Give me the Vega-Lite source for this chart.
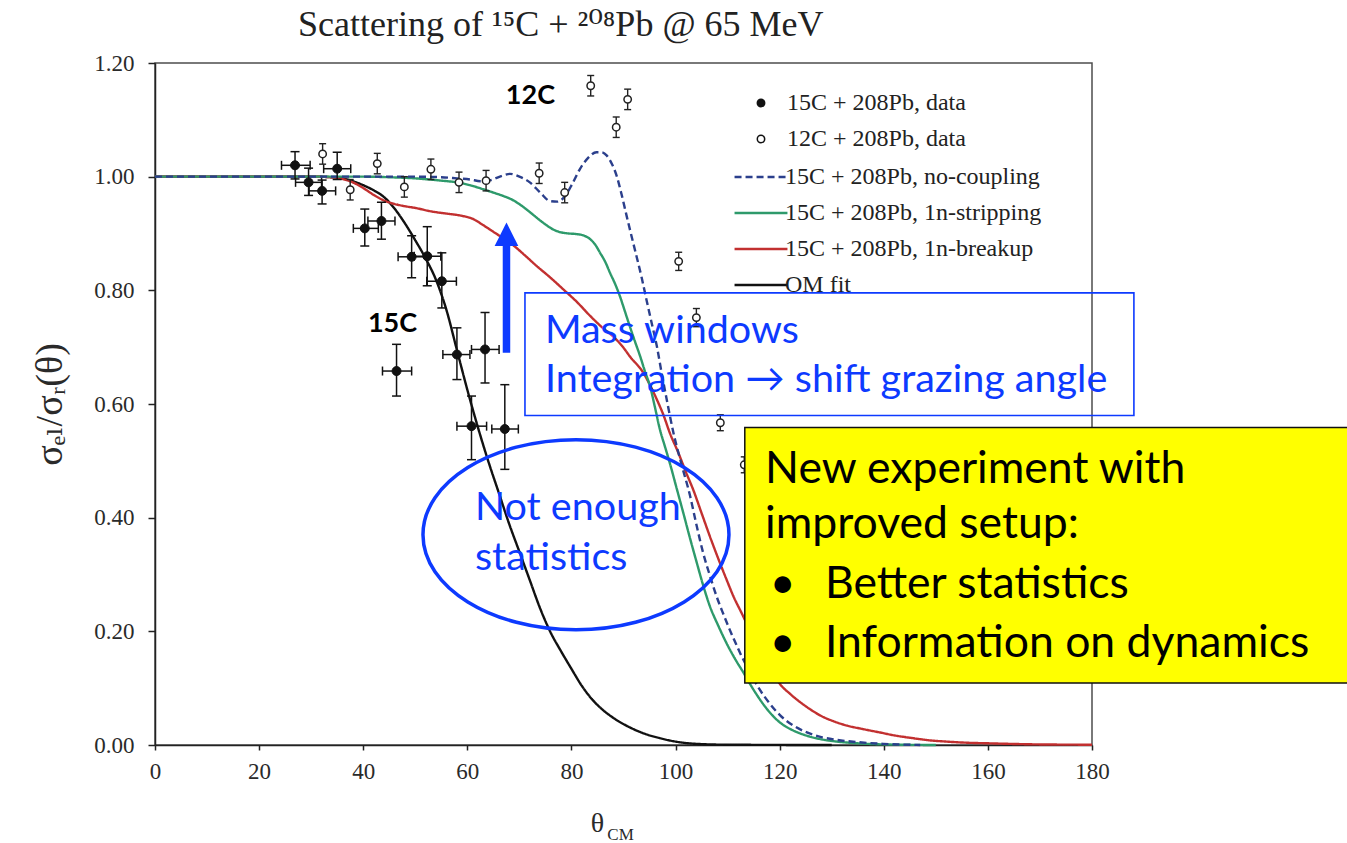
{
  "$schema": "https://vega.github.io/schema/vega-lite/v6.json",
  "width": 937,
  "height": 682,
  "autosize": {"type": "none"},
  "padding": {"left": 155, "top": 63, "right": 255, "bottom": 98},
  "background": "white",
  "title": {
    "text": "Scattering of ¹⁵C + ²⁰⁸Pb @ 65 MeV",
    "anchor": "start",
    "frame": "group",
    "dx": 143,
    "offset": 8,
    "font": "Liberation Serif, DejaVu Serif, serif",
    "fontSize": 36,
    "fontWeight": "normal",
    "color": "#222222"
  },
  "config": {
    "view": {"stroke": "#4d4d4d", "strokeWidth": 1.5},
    "axis": {
      "grid": false,
      "labelFont": "Liberation Serif",
      "labelFontSize": 23,
      "labelColor": "#2a2a2a",
      "labelFlush": false,
      "labelOverlap": false,
      "titleFont": "Liberation Serif, DejaVu Serif, serif",
      "titleFontWeight": "normal",
      "titleColor": "#2a2a2a",
      "domainColor": "#222222",
      "domainWidth": 1.5,
      "tickColor": "#222222",
      "tickWidth": 1.5
    },
    "axisX": {"titleFontSize": 28, "titlePadding": 26, "titleX": 442, "tickSize": 5, "labelPadding": 10},
    "axisY": {"titleFontSize": 38, "titlePadding": 24, "tickSize": 7, "labelPadding": 14},
    "legend": {
      "labelFont": "Liberation Serif",
      "labelFontSize": 24,
      "labelColor": "#222222",
      "labelLimit": 400,
      "padding": 0,
      "orient": "none"
    }
  },
  "datasets": {
    "curves": [
      {"theta": 0, "ratio": 1.0, "series": "OM fit"},
      {"theta": 30, "ratio": 1.0, "series": "OM fit"},
      {"theta": 34, "ratio": 0.999, "series": "OM fit"},
      {"theta": 36, "ratio": 0.997, "series": "OM fit"},
      {"theta": 38, "ratio": 0.992, "series": "OM fit"},
      {"theta": 40, "ratio": 0.985, "series": "OM fit"},
      {"theta": 42, "ratio": 0.976, "series": "OM fit"},
      {"theta": 44, "ratio": 0.964, "series": "OM fit"},
      {"theta": 46, "ratio": 0.944, "series": "OM fit"},
      {"theta": 48, "ratio": 0.918, "series": "OM fit"},
      {"theta": 50, "ratio": 0.888, "series": "OM fit"},
      {"theta": 52, "ratio": 0.856, "series": "OM fit"},
      {"theta": 54, "ratio": 0.818, "series": "OM fit"},
      {"theta": 56, "ratio": 0.765, "series": "OM fit"},
      {"theta": 58, "ratio": 0.695, "series": "OM fit"},
      {"theta": 60, "ratio": 0.625, "series": "OM fit"},
      {"theta": 62, "ratio": 0.56, "series": "OM fit"},
      {"theta": 64, "ratio": 0.5, "series": "OM fit"},
      {"theta": 66, "ratio": 0.445, "series": "OM fit"},
      {"theta": 68, "ratio": 0.39, "series": "OM fit"},
      {"theta": 70, "ratio": 0.34, "series": "OM fit"},
      {"theta": 72, "ratio": 0.29, "series": "OM fit"},
      {"theta": 74, "ratio": 0.24, "series": "OM fit"},
      {"theta": 76, "ratio": 0.198, "series": "OM fit"},
      {"theta": 78, "ratio": 0.165, "series": "OM fit"},
      {"theta": 80, "ratio": 0.134, "series": "OM fit"},
      {"theta": 82, "ratio": 0.104, "series": "OM fit"},
      {"theta": 84, "ratio": 0.08, "series": "OM fit"},
      {"theta": 86, "ratio": 0.062, "series": "OM fit"},
      {"theta": 88, "ratio": 0.048, "series": "OM fit"},
      {"theta": 91, "ratio": 0.032, "series": "OM fit"},
      {"theta": 94, "ratio": 0.02, "series": "OM fit"},
      {"theta": 97, "ratio": 0.012, "series": "OM fit"},
      {"theta": 100, "ratio": 0.006, "series": "OM fit"},
      {"theta": 104, "ratio": 0.002, "series": "OM fit"},
      {"theta": 110, "ratio": 0.0005, "series": "OM fit"},
      {"theta": 130, "ratio": 0, "series": "OM fit"},

      {"theta": 0, "ratio": 1.0, "series": "15C + 208Pb, 1n-breakup"},
      {"theta": 30, "ratio": 1.0, "series": "15C + 208Pb, 1n-breakup"},
      {"theta": 34, "ratio": 0.999, "series": "15C + 208Pb, 1n-breakup"},
      {"theta": 36, "ratio": 0.996, "series": "15C + 208Pb, 1n-breakup"},
      {"theta": 38, "ratio": 0.99, "series": "15C + 208Pb, 1n-breakup"},
      {"theta": 40, "ratio": 0.98, "series": "15C + 208Pb, 1n-breakup"},
      {"theta": 42, "ratio": 0.968, "series": "15C + 208Pb, 1n-breakup"},
      {"theta": 44, "ratio": 0.958, "series": "15C + 208Pb, 1n-breakup"},
      {"theta": 46, "ratio": 0.952, "series": "15C + 208Pb, 1n-breakup"},
      {"theta": 48, "ratio": 0.948, "series": "15C + 208Pb, 1n-breakup"},
      {"theta": 50, "ratio": 0.945, "series": "15C + 208Pb, 1n-breakup"},
      {"theta": 53, "ratio": 0.939, "series": "15C + 208Pb, 1n-breakup"},
      {"theta": 56, "ratio": 0.935, "series": "15C + 208Pb, 1n-breakup"},
      {"theta": 59, "ratio": 0.931, "series": "15C + 208Pb, 1n-breakup"},
      {"theta": 61, "ratio": 0.926, "series": "15C + 208Pb, 1n-breakup"},
      {"theta": 63, "ratio": 0.915, "series": "15C + 208Pb, 1n-breakup"},
      {"theta": 65, "ratio": 0.903, "series": "15C + 208Pb, 1n-breakup"},
      {"theta": 67, "ratio": 0.891, "series": "15C + 208Pb, 1n-breakup"},
      {"theta": 69, "ratio": 0.878, "series": "15C + 208Pb, 1n-breakup"},
      {"theta": 71, "ratio": 0.862, "series": "15C + 208Pb, 1n-breakup"},
      {"theta": 73.3, "ratio": 0.843, "series": "15C + 208Pb, 1n-breakup"},
      {"theta": 76, "ratio": 0.822, "series": "15C + 208Pb, 1n-breakup"},
      {"theta": 78.4, "ratio": 0.802, "series": "15C + 208Pb, 1n-breakup"},
      {"theta": 81, "ratio": 0.78, "series": "15C + 208Pb, 1n-breakup"},
      {"theta": 83.6, "ratio": 0.755, "series": "15C + 208Pb, 1n-breakup"},
      {"theta": 86, "ratio": 0.734, "series": "15C + 208Pb, 1n-breakup"},
      {"theta": 88, "ratio": 0.719, "series": "15C + 208Pb, 1n-breakup"},
      {"theta": 90, "ratio": 0.699, "series": "15C + 208Pb, 1n-breakup"},
      {"theta": 91.2, "ratio": 0.684, "series": "15C + 208Pb, 1n-breakup"},
      {"theta": 93.8, "ratio": 0.655, "series": "15C + 208Pb, 1n-breakup"},
      {"theta": 95, "ratio": 0.635, "series": "15C + 208Pb, 1n-breakup"},
      {"theta": 96.4, "ratio": 0.608, "series": "15C + 208Pb, 1n-breakup"},
      {"theta": 97.7, "ratio": 0.58, "series": "15C + 208Pb, 1n-breakup"},
      {"theta": 98.9, "ratio": 0.549, "series": "15C + 208Pb, 1n-breakup"},
      {"theta": 100.5, "ratio": 0.515, "series": "15C + 208Pb, 1n-breakup"},
      {"theta": 102, "ratio": 0.48, "series": "15C + 208Pb, 1n-breakup"},
      {"theta": 103.4, "ratio": 0.449, "series": "15C + 208Pb, 1n-breakup"},
      {"theta": 105, "ratio": 0.408, "series": "15C + 208Pb, 1n-breakup"},
      {"theta": 106.6, "ratio": 0.367, "series": "15C + 208Pb, 1n-breakup"},
      {"theta": 108.2, "ratio": 0.328, "series": "15C + 208Pb, 1n-breakup"},
      {"theta": 109.8, "ratio": 0.291, "series": "15C + 208Pb, 1n-breakup"},
      {"theta": 111.2, "ratio": 0.26, "series": "15C + 208Pb, 1n-breakup"},
      {"theta": 112.7, "ratio": 0.232, "series": "15C + 208Pb, 1n-breakup"},
      {"theta": 114.5, "ratio": 0.198, "series": "15C + 208Pb, 1n-breakup"},
      {"theta": 116, "ratio": 0.172, "series": "15C + 208Pb, 1n-breakup"},
      {"theta": 118, "ratio": 0.14, "series": "15C + 208Pb, 1n-breakup"},
      {"theta": 120, "ratio": 0.108, "series": "15C + 208Pb, 1n-breakup"},
      {"theta": 122, "ratio": 0.09, "series": "15C + 208Pb, 1n-breakup"},
      {"theta": 124, "ratio": 0.075, "series": "15C + 208Pb, 1n-breakup"},
      {"theta": 126, "ratio": 0.062, "series": "15C + 208Pb, 1n-breakup"},
      {"theta": 128, "ratio": 0.051, "series": "15C + 208Pb, 1n-breakup"},
      {"theta": 130, "ratio": 0.043, "series": "15C + 208Pb, 1n-breakup"},
      {"theta": 133, "ratio": 0.034, "series": "15C + 208Pb, 1n-breakup"},
      {"theta": 136, "ratio": 0.028, "series": "15C + 208Pb, 1n-breakup"},
      {"theta": 139.3, "ratio": 0.022, "series": "15C + 208Pb, 1n-breakup"},
      {"theta": 142, "ratio": 0.017, "series": "15C + 208Pb, 1n-breakup"},
      {"theta": 145.6, "ratio": 0.012, "series": "15C + 208Pb, 1n-breakup"},
      {"theta": 149, "ratio": 0.008, "series": "15C + 208Pb, 1n-breakup"},
      {"theta": 152, "ratio": 0.006, "series": "15C + 208Pb, 1n-breakup"},
      {"theta": 156, "ratio": 0.004, "series": "15C + 208Pb, 1n-breakup"},
      {"theta": 160, "ratio": 0.003, "series": "15C + 208Pb, 1n-breakup"},
      {"theta": 170, "ratio": 0.001, "series": "15C + 208Pb, 1n-breakup"},
      {"theta": 180, "ratio": 0.0005, "series": "15C + 208Pb, 1n-breakup"},

      {"theta": 0, "ratio": 1.0, "series": "15C + 208Pb, 1n-stripping"},
      {"theta": 40, "ratio": 1.0, "series": "15C + 208Pb, 1n-stripping"},
      {"theta": 45, "ratio": 0.999, "series": "15C + 208Pb, 1n-stripping"},
      {"theta": 50, "ratio": 0.997, "series": "15C + 208Pb, 1n-stripping"},
      {"theta": 55, "ratio": 0.993, "series": "15C + 208Pb, 1n-stripping"},
      {"theta": 58, "ratio": 0.99, "series": "15C + 208Pb, 1n-stripping"},
      {"theta": 60.5, "ratio": 0.985, "series": "15C + 208Pb, 1n-stripping"},
      {"theta": 63, "ratio": 0.978, "series": "15C + 208Pb, 1n-stripping"},
      {"theta": 65, "ratio": 0.972, "series": "15C + 208Pb, 1n-stripping"},
      {"theta": 66.9, "ratio": 0.966, "series": "15C + 208Pb, 1n-stripping"},
      {"theta": 68.5, "ratio": 0.96, "series": "15C + 208Pb, 1n-stripping"},
      {"theta": 70.1, "ratio": 0.951, "series": "15C + 208Pb, 1n-stripping"},
      {"theta": 71.7, "ratio": 0.94, "series": "15C + 208Pb, 1n-stripping"},
      {"theta": 73.3, "ratio": 0.928, "series": "15C + 208Pb, 1n-stripping"},
      {"theta": 75, "ratio": 0.916, "series": "15C + 208Pb, 1n-stripping"},
      {"theta": 76.5, "ratio": 0.907, "series": "15C + 208Pb, 1n-stripping"},
      {"theta": 78, "ratio": 0.902, "series": "15C + 208Pb, 1n-stripping"},
      {"theta": 79.5, "ratio": 0.9, "series": "15C + 208Pb, 1n-stripping"},
      {"theta": 81, "ratio": 0.899, "series": "15C + 208Pb, 1n-stripping"},
      {"theta": 82.5, "ratio": 0.896, "series": "15C + 208Pb, 1n-stripping"},
      {"theta": 83.6, "ratio": 0.89, "series": "15C + 208Pb, 1n-stripping"},
      {"theta": 84.6, "ratio": 0.88, "series": "15C + 208Pb, 1n-stripping"},
      {"theta": 85.5, "ratio": 0.866, "series": "15C + 208Pb, 1n-stripping"},
      {"theta": 86.5, "ratio": 0.85, "series": "15C + 208Pb, 1n-stripping"},
      {"theta": 87.4, "ratio": 0.831, "series": "15C + 208Pb, 1n-stripping"},
      {"theta": 88.4, "ratio": 0.811, "series": "15C + 208Pb, 1n-stripping"},
      {"theta": 89.3, "ratio": 0.79, "series": "15C + 208Pb, 1n-stripping"},
      {"theta": 90.2, "ratio": 0.765, "series": "15C + 208Pb, 1n-stripping"},
      {"theta": 91.2, "ratio": 0.737, "series": "15C + 208Pb, 1n-stripping"},
      {"theta": 92.2, "ratio": 0.71, "series": "15C + 208Pb, 1n-stripping"},
      {"theta": 93.2, "ratio": 0.684, "series": "15C + 208Pb, 1n-stripping"},
      {"theta": 94.1, "ratio": 0.658, "series": "15C + 208Pb, 1n-stripping"},
      {"theta": 95.1, "ratio": 0.631, "series": "15C + 208Pb, 1n-stripping"},
      {"theta": 96, "ratio": 0.596, "series": "15C + 208Pb, 1n-stripping"},
      {"theta": 97, "ratio": 0.555, "series": "15C + 208Pb, 1n-stripping"},
      {"theta": 98, "ratio": 0.524, "series": "15C + 208Pb, 1n-stripping"},
      {"theta": 98.9, "ratio": 0.496, "series": "15C + 208Pb, 1n-stripping"},
      {"theta": 100.2, "ratio": 0.452, "series": "15C + 208Pb, 1n-stripping"},
      {"theta": 101.5, "ratio": 0.408, "series": "15C + 208Pb, 1n-stripping"},
      {"theta": 102.8, "ratio": 0.363, "series": "15C + 208Pb, 1n-stripping"},
      {"theta": 104.1, "ratio": 0.32, "series": "15C + 208Pb, 1n-stripping"},
      {"theta": 105.3, "ratio": 0.281, "series": "15C + 208Pb, 1n-stripping"},
      {"theta": 106.6, "ratio": 0.244, "series": "15C + 208Pb, 1n-stripping"},
      {"theta": 108.2, "ratio": 0.21, "series": "15C + 208Pb, 1n-stripping"},
      {"theta": 109.8, "ratio": 0.179, "series": "15C + 208Pb, 1n-stripping"},
      {"theta": 111.4, "ratio": 0.152, "series": "15C + 208Pb, 1n-stripping"},
      {"theta": 113, "ratio": 0.128, "series": "15C + 208Pb, 1n-stripping"},
      {"theta": 115, "ratio": 0.097, "series": "15C + 208Pb, 1n-stripping"},
      {"theta": 117.5, "ratio": 0.064, "series": "15C + 208Pb, 1n-stripping"},
      {"theta": 120, "ratio": 0.04, "series": "15C + 208Pb, 1n-stripping"},
      {"theta": 122.5, "ratio": 0.026, "series": "15C + 208Pb, 1n-stripping"},
      {"theta": 125, "ratio": 0.017, "series": "15C + 208Pb, 1n-stripping"},
      {"theta": 128, "ratio": 0.01, "series": "15C + 208Pb, 1n-stripping"},
      {"theta": 131, "ratio": 0.006, "series": "15C + 208Pb, 1n-stripping"},
      {"theta": 135, "ratio": 0.003, "series": "15C + 208Pb, 1n-stripping"},
      {"theta": 140, "ratio": 0.001, "series": "15C + 208Pb, 1n-stripping"},
      {"theta": 150, "ratio": 0, "series": "15C + 208Pb, 1n-stripping"},

      {"theta": 0, "ratio": 1.0, "series": "15C + 208Pb, no-coupling"},
      {"theta": 45, "ratio": 1.0, "series": "15C + 208Pb, no-coupling"},
      {"theta": 50, "ratio": 1.0, "series": "15C + 208Pb, no-coupling"},
      {"theta": 55, "ratio": 0.999, "series": "15C + 208Pb, no-coupling"},
      {"theta": 58, "ratio": 0.997, "series": "15C + 208Pb, no-coupling"},
      {"theta": 60.6, "ratio": 0.995, "series": "15C + 208Pb, no-coupling"},
      {"theta": 62.5, "ratio": 0.992, "series": "15C + 208Pb, no-coupling"},
      {"theta": 64.5, "ratio": 0.994, "series": "15C + 208Pb, no-coupling"},
      {"theta": 66.5, "ratio": 1.001, "series": "15C + 208Pb, no-coupling"},
      {"theta": 68.2, "ratio": 1.005, "series": "15C + 208Pb, no-coupling"},
      {"theta": 70, "ratio": 1.0, "series": "15C + 208Pb, no-coupling"},
      {"theta": 72, "ratio": 0.99, "series": "15C + 208Pb, no-coupling"},
      {"theta": 74, "ratio": 0.972, "series": "15C + 208Pb, no-coupling"},
      {"theta": 75.9, "ratio": 0.957, "series": "15C + 208Pb, no-coupling"},
      {"theta": 77.3, "ratio": 0.956, "series": "15C + 208Pb, no-coupling"},
      {"theta": 78.8, "ratio": 0.966, "series": "15C + 208Pb, no-coupling"},
      {"theta": 80.2, "ratio": 0.988, "series": "15C + 208Pb, no-coupling"},
      {"theta": 81.6, "ratio": 1.013, "series": "15C + 208Pb, no-coupling"},
      {"theta": 83.2, "ratio": 1.033, "series": "15C + 208Pb, no-coupling"},
      {"theta": 84.8, "ratio": 1.043, "series": "15C + 208Pb, no-coupling"},
      {"theta": 85.8, "ratio": 1.043, "series": "15C + 208Pb, no-coupling"},
      {"theta": 86.8, "ratio": 1.037, "series": "15C + 208Pb, no-coupling"},
      {"theta": 87.8, "ratio": 1.022, "series": "15C + 208Pb, no-coupling"},
      {"theta": 88.7, "ratio": 1.001, "series": "15C + 208Pb, no-coupling"},
      {"theta": 89.6, "ratio": 0.97, "series": "15C + 208Pb, no-coupling"},
      {"theta": 90.6, "ratio": 0.931, "series": "15C + 208Pb, no-coupling"},
      {"theta": 91.5, "ratio": 0.897, "series": "15C + 208Pb, no-coupling"},
      {"theta": 92.5, "ratio": 0.86, "series": "15C + 208Pb, no-coupling"},
      {"theta": 93.5, "ratio": 0.822, "series": "15C + 208Pb, no-coupling"},
      {"theta": 94.4, "ratio": 0.784, "series": "15C + 208Pb, no-coupling"},
      {"theta": 95.4, "ratio": 0.743, "series": "15C + 208Pb, no-coupling"},
      {"theta": 96.4, "ratio": 0.702, "series": "15C + 208Pb, no-coupling"},
      {"theta": 97.3, "ratio": 0.656, "series": "15C + 208Pb, no-coupling"},
      {"theta": 98.3, "ratio": 0.608, "series": "15C + 208Pb, no-coupling"},
      {"theta": 99.6, "ratio": 0.549, "series": "15C + 208Pb, no-coupling"},
      {"theta": 101.2, "ratio": 0.492, "series": "15C + 208Pb, no-coupling"},
      {"theta": 102.8, "ratio": 0.438, "series": "15C + 208Pb, no-coupling"},
      {"theta": 104, "ratio": 0.388, "series": "15C + 208Pb, no-coupling"},
      {"theta": 105.3, "ratio": 0.338, "series": "15C + 208Pb, no-coupling"},
      {"theta": 106.6, "ratio": 0.298, "series": "15C + 208Pb, no-coupling"},
      {"theta": 107.9, "ratio": 0.261, "series": "15C + 208Pb, no-coupling"},
      {"theta": 109.2, "ratio": 0.23, "series": "15C + 208Pb, no-coupling"},
      {"theta": 110.4, "ratio": 0.203, "series": "15C + 208Pb, no-coupling"},
      {"theta": 111.6, "ratio": 0.178, "series": "15C + 208Pb, no-coupling"},
      {"theta": 112.7, "ratio": 0.156, "series": "15C + 208Pb, no-coupling"},
      {"theta": 114.3, "ratio": 0.128, "series": "15C + 208Pb, no-coupling"},
      {"theta": 116, "ratio": 0.1, "series": "15C + 208Pb, no-coupling"},
      {"theta": 118, "ratio": 0.074, "series": "15C + 208Pb, no-coupling"},
      {"theta": 120, "ratio": 0.053, "series": "15C + 208Pb, no-coupling"},
      {"theta": 122.5, "ratio": 0.035, "series": "15C + 208Pb, no-coupling"},
      {"theta": 125, "ratio": 0.023, "series": "15C + 208Pb, no-coupling"},
      {"theta": 128, "ratio": 0.014, "series": "15C + 208Pb, no-coupling"},
      {"theta": 131, "ratio": 0.009, "series": "15C + 208Pb, no-coupling"},
      {"theta": 135, "ratio": 0.005, "series": "15C + 208Pb, no-coupling"},
      {"theta": 140, "ratio": 0.002, "series": "15C + 208Pb, no-coupling"},
      {"theta": 147, "ratio": 0, "series": "15C + 208Pb, no-coupling"}
    ],
    "c15": [
      {"theta": 26.9, "ratio": 1.02, "tlo": 24.3, "thi": 29.8, "rlo": 0.996, "rhi": 1.044, "series": "15C + 208Pb, data"},
      {"theta": 29.5, "ratio": 0.99, "tlo": 27.0, "thi": 32.0, "rlo": 0.967, "rhi": 1.015, "series": "15C + 208Pb, data"},
      {"theta": 32.1, "ratio": 0.975, "tlo": 29.6, "thi": 34.7, "rlo": 0.952, "rhi": 0.994, "series": "15C + 208Pb, data"},
      {"theta": 35.0, "ratio": 1.014, "tlo": 32.4, "thi": 37.6, "rlo": 0.995, "rhi": 1.043, "series": "15C + 208Pb, data"},
      {"theta": 40.3, "ratio": 0.909, "tlo": 38.1, "thi": 42.9, "rlo": 0.878, "rhi": 0.943, "series": "15C + 208Pb, data"},
      {"theta": 43.5, "ratio": 0.922, "tlo": 40.9, "thi": 46.1, "rlo": 0.89, "rhi": 0.955, "series": "15C + 208Pb, data"},
      {"theta": 49.3, "ratio": 0.859, "tlo": 46.7, "thi": 52.2, "rlo": 0.822, "rhi": 0.896, "series": "15C + 208Pb, data"},
      {"theta": 52.3, "ratio": 0.86, "tlo": 49.8, "thi": 54.9, "rlo": 0.808, "rhi": 0.912, "series": "15C + 208Pb, data"},
      {"theta": 55.1, "ratio": 0.816, "tlo": 52.2, "thi": 57.9, "rlo": 0.769, "rhi": 0.866, "series": "15C + 208Pb, data"},
      {"theta": 46.4, "ratio": 0.658, "tlo": 43.7, "thi": 49.3, "rlo": 0.614, "rhi": 0.705, "series": "15C + 208Pb, data"},
      {"theta": 58.0, "ratio": 0.687, "tlo": 55.3, "thi": 60.5, "rlo": 0.643, "rhi": 0.734, "series": "15C + 208Pb, data"},
      {"theta": 63.4, "ratio": 0.696, "tlo": 60.8, "thi": 66.1, "rlo": 0.637, "rhi": 0.761, "series": "15C + 208Pb, data"},
      {"theta": 60.8, "ratio": 0.561, "tlo": 58.0, "thi": 63.7, "rlo": 0.502, "rhi": 0.614, "series": "15C + 208Pb, data"},
      {"theta": 67.2, "ratio": 0.556, "tlo": 64.7, "thi": 69.8, "rlo": 0.485, "rhi": 0.634, "series": "15C + 208Pb, data"}
    ],
    "c12": [
      {"theta": 32.2, "ratio": 1.04, "rlo": 1.022, "rhi": 1.058, "series": "12C + 208Pb, data"},
      {"theta": 37.5, "ratio": 0.977, "rlo": 0.959, "rhi": 0.995, "series": "12C + 208Pb, data"},
      {"theta": 42.7, "ratio": 1.023, "rlo": 1.005, "rhi": 1.041, "series": "12C + 208Pb, data"},
      {"theta": 47.9, "ratio": 0.982, "rlo": 0.964, "rhi": 1.0, "series": "12C + 208Pb, data"},
      {"theta": 53.0, "ratio": 1.013, "rlo": 0.995, "rhi": 1.031, "series": "12C + 208Pb, data"},
      {"theta": 58.4, "ratio": 0.99, "rlo": 0.972, "rhi": 1.008, "series": "12C + 208Pb, data"},
      {"theta": 63.6, "ratio": 0.993, "rlo": 0.975, "rhi": 1.011, "series": "12C + 208Pb, data"},
      {"theta": 73.8, "ratio": 1.006, "rlo": 0.988, "rhi": 1.024, "series": "12C + 208Pb, data"},
      {"theta": 78.7, "ratio": 0.972, "rlo": 0.954, "rhi": 0.99, "series": "12C + 208Pb, data"},
      {"theta": 83.7, "ratio": 1.16, "rlo": 1.142, "rhi": 1.178, "series": "12C + 208Pb, data"},
      {"theta": 88.6, "ratio": 1.087, "rlo": 1.069, "rhi": 1.105, "series": "12C + 208Pb, data"},
      {"theta": 90.8, "ratio": 1.136, "rlo": 1.118, "rhi": 1.154, "series": "12C + 208Pb, data"},
      {"theta": 100.6, "ratio": 0.851, "rlo": 0.835, "rhi": 0.867, "series": "12C + 208Pb, data"},
      {"theta": 104.0, "ratio": 0.752, "rlo": 0.736, "rhi": 0.768, "series": "12C + 208Pb, data"},
      {"theta": 108.6, "ratio": 0.567, "rlo": 0.553, "rhi": 0.581, "series": "12C + 208Pb, data"},
      {"theta": 113.2, "ratio": 0.493, "rlo": 0.479, "rhi": 0.507, "series": "12C + 208Pb, data"}
    ],
    "frame": [{"x0": 71.07, "x1": 188.05, "y0": 0.5797, "y1": 0.7956}],
    "arrow": [{"x": 67.52, "y0": 0.69, "y1": 0.88, "tip": 0.8987}],
    "ring": [{"x": 80.87, "y": 0.37}],
    "blue_notes": [
      {"x": 74.9, "y": 0.7075, "label": "Mass windows"},
      {"x": 74.9, "y": 0.621, "label": "Integration → shift grazing angle"},
      {"x": 61.47, "y": 0.3965, "label": "Not enough"},
      {"x": 61.47, "y": 0.3084, "label": "statistics"}
    ],
    "tags": [
      {"x": 67.4, "y": 1.128, "label": "12C"},
      {"x": 40.9, "y": 0.726, "label": "15C"}
    ],
    "panel": [{"x0": 113.3, "x1": 240, "y0": 0.1093, "y1": 0.5586}],
    "panel_notes": [
      {"x": 117.2, "y": 0.461, "label": "New experiment with"},
      {"x": 117.2, "y": 0.364, "label": "improved setup:"},
      {"x": 118.1, "y": 0.2585, "label": "•"},
      {"x": 128.7, "y": 0.2585, "label": "Better statistics"},
      {"x": 118.1, "y": 0.1556, "label": "•"},
      {"x": 128.7, "y": 0.1556, "label": "Information on dynamics"}
    ],
    "sub": [{"x": 86.9, "y": -0.168, "label": "CM"}]
  },
  "layer": [
    {
      "data": {"name": "curves"},
      "mark": {"type": "line", "strokeWidth": 2.4, "interpolate": "monotone"},
      "encoding": {
        "x": {
          "field": "theta", "type": "quantitative",
          "scale": {"domain": [0, 180], "nice": false},
          "axis": {"values": [0, 20, 40, 60, 80, 100, 120, 140, 160, 180], "format": "d"},
          "title": "θ"
        },
        "y": {
          "field": "ratio", "type": "quantitative",
          "scale": {"domain": [0, 1.2], "nice": false},
          "axis": {"values": [0, 0.2, 0.4, 0.6, 0.8, 1.0, 1.2], "format": ".2f"},
          "title": "σₑₗ/σᵣ(θ)"
        },
        "stroke": {
          "field": "series", "type": "nominal",
          "scale": {
            "domain": ["15C + 208Pb, no-coupling", "15C + 208Pb, 1n-stripping", "15C + 208Pb, 1n-breakup", "OM fit"],
            "range": ["#2b3f8c", "#2e9a6b", "#c23030", "#111111"]
          },
          "legend": {
            "title": null, "legendX": 578, "legendY": 102,
            "symbolType": "stroke", "symbolSize": 2800, "symbolStrokeWidth": 2.4,
            "clipHeight": 24, "rowPadding": 12, "labelOffset": -4
          }
        },
        "strokeDash": {
          "field": "series", "type": "nominal",
          "scale": {
            "domain": ["15C + 208Pb, no-coupling", "15C + 208Pb, 1n-stripping", "15C + 208Pb, 1n-breakup", "OM fit"],
            "range": [[7, 4], [1, 0], [1, 0], [1, 0]]
          },
          "legend": {
            "title": null, "legendX": 578, "legendY": 102,
            "symbolType": "stroke", "symbolSize": 2800, "symbolStrokeWidth": 2.4,
            "clipHeight": 24, "rowPadding": 12, "labelOffset": -4
          }
        }
      }
    },
    {
      "data": {"name": "c15"},
      "mark": {"type": "rule", "color": "#111111", "strokeWidth": 1.5},
      "encoding": {
        "x": {"field": "theta", "type": "quantitative", "scale": {"domain": [0, 180], "nice": false}},
        "y": {"field": "rlo", "type": "quantitative", "scale": {"domain": [0, 1.2], "nice": false}},
        "y2": {"field": "rhi"}
      }
    },
    {
      "data": {"name": "c15"},
      "mark": {"type": "rule", "color": "#111111", "strokeWidth": 1.5},
      "encoding": {
        "x": {"field": "tlo", "type": "quantitative", "scale": {"domain": [0, 180], "nice": false}},
        "x2": {"field": "thi"},
        "y": {"field": "ratio", "type": "quantitative", "scale": {"domain": [0, 1.2], "nice": false}}
      }
    },
    {
      "data": {"name": "c15"},
      "mark": {"type": "tick", "orient": "horizontal", "size": 9, "thickness": 1.5, "color": "#111111", "opacity": 1},
      "encoding": {
        "x": {"field": "theta", "type": "quantitative", "scale": {"domain": [0, 180], "nice": false}},
        "y": {"field": "rhi", "type": "quantitative", "scale": {"domain": [0, 1.2], "nice": false}}
      }
    },
    {
      "data": {"name": "c15"},
      "mark": {"type": "tick", "orient": "horizontal", "size": 9, "thickness": 1.5, "color": "#111111", "opacity": 1},
      "encoding": {
        "x": {"field": "theta", "type": "quantitative", "scale": {"domain": [0, 180], "nice": false}},
        "y": {"field": "rlo", "type": "quantitative", "scale": {"domain": [0, 1.2], "nice": false}}
      }
    },
    {
      "data": {"name": "c15"},
      "mark": {"type": "tick", "orient": "vertical", "size": 9, "thickness": 1.5, "color": "#111111", "opacity": 1},
      "encoding": {
        "x": {"field": "tlo", "type": "quantitative", "scale": {"domain": [0, 180], "nice": false}},
        "y": {"field": "ratio", "type": "quantitative", "scale": {"domain": [0, 1.2], "nice": false}}
      }
    },
    {
      "data": {"name": "c15"},
      "mark": {"type": "tick", "orient": "vertical", "size": 9, "thickness": 1.5, "color": "#111111", "opacity": 1},
      "encoding": {
        "x": {"field": "thi", "type": "quantitative", "scale": {"domain": [0, 180], "nice": false}},
        "y": {"field": "ratio", "type": "quantitative", "scale": {"domain": [0, 1.2], "nice": false}}
      }
    },
    {
      "data": {"name": "c12"},
      "mark": {"type": "rule", "color": "#222222", "strokeWidth": 1.4},
      "encoding": {
        "x": {"field": "theta", "type": "quantitative", "scale": {"domain": [0, 180], "nice": false}},
        "y": {"field": "rlo", "type": "quantitative", "scale": {"domain": [0, 1.2], "nice": false}},
        "y2": {"field": "rhi"}
      }
    },
    {
      "data": {"name": "c12"},
      "mark": {"type": "tick", "orient": "horizontal", "size": 7, "thickness": 1.4, "color": "#222222", "opacity": 1},
      "encoding": {
        "x": {"field": "theta", "type": "quantitative", "scale": {"domain": [0, 180], "nice": false}},
        "y": {"field": "rhi", "type": "quantitative", "scale": {"domain": [0, 1.2], "nice": false}}
      }
    },
    {
      "data": {"name": "c12"},
      "mark": {"type": "tick", "orient": "horizontal", "size": 7, "thickness": 1.4, "color": "#222222", "opacity": 1},
      "encoding": {
        "x": {"field": "theta", "type": "quantitative", "scale": {"domain": [0, 180], "nice": false}},
        "y": {"field": "rlo", "type": "quantitative", "scale": {"domain": [0, 1.2], "nice": false}}
      }
    },
    {
      "data": {"name": "c15"},
      "mark": {"type": "point", "filled": true, "size": 80, "stroke": "#111111", "strokeWidth": 1, "opacity": 1},
      "encoding": {
        "x": {"field": "theta", "type": "quantitative", "scale": {"domain": [0, 180], "nice": false}},
        "y": {"field": "ratio", "type": "quantitative", "scale": {"domain": [0, 1.2], "nice": false}},
        "fill": {
          "field": "series", "type": "nominal",
          "scale": {"domain": ["15C + 208Pb, data", "12C + 208Pb, data"], "range": ["#111111", "#ffffff"]},
          "legend": {
            "title": null, "legendX": 594, "legendY": 28,
            "symbolType": "circle", "symbolSize": 55, "symbolStrokeColor": "#111111", "symbolStrokeWidth": 1.5,
            "clipHeight": 24, "rowPadding": 12, "labelOffset": 14
          }
        }
      }
    },
    {
      "data": {"name": "c12"},
      "mark": {"type": "point", "filled": true, "size": 55, "stroke": "#222222", "strokeWidth": 1.5, "opacity": 1},
      "encoding": {
        "x": {"field": "theta", "type": "quantitative", "scale": {"domain": [0, 180], "nice": false}},
        "y": {"field": "ratio", "type": "quantitative", "scale": {"domain": [0, 1.2], "nice": false}},
        "fill": {
          "field": "series", "type": "nominal",
          "scale": {"domain": ["15C + 208Pb, data", "12C + 208Pb, data"], "range": ["#111111", "#ffffff"]},
          "legend": {
            "title": null, "legendX": 594, "legendY": 28,
            "symbolType": "circle", "symbolSize": 55, "symbolStrokeColor": "#111111", "symbolStrokeWidth": 1.5,
            "clipHeight": 24, "rowPadding": 12, "labelOffset": 14
          }
        }
      }
    },
    {
      "data": {"name": "frame"},
      "mark": {"type": "rect", "fill": "#ffffff", "fillOpacity": 0, "stroke": "#0d3aff", "strokeWidth": 1.6},
      "encoding": {
        "x": {"field": "x0", "type": "quantitative", "scale": {"domain": [0, 180], "nice": false}},
        "x2": {"field": "x1"},
        "y": {"field": "y0", "type": "quantitative", "scale": {"domain": [0, 1.2], "nice": false}},
        "y2": {"field": "y1"}
      }
    },
    {
      "data": {"name": "arrow"},
      "mark": {"type": "rule", "color": "#0d3aff", "strokeWidth": 7.5, "strokeCap": "butt"},
      "encoding": {
        "x": {"field": "x", "type": "quantitative", "scale": {"domain": [0, 180], "nice": false}},
        "y": {"field": "y0", "type": "quantitative", "scale": {"domain": [0, 1.2], "nice": false}},
        "y2": {"field": "y1"}
      }
    },
    {
      "data": {"name": "arrow"},
      "mark": {"type": "point", "shape": "M 0 -1 L 1 1 L -1 1 Z", "size": 560, "filled": true, "color": "#0d3aff", "opacity": 1},
      "encoding": {
        "x": {"field": "x", "type": "quantitative", "scale": {"domain": [0, 180], "nice": false}},
        "y": {"field": "tip", "type": "quantitative", "scale": {"domain": [0, 1.2], "nice": false}}
      }
    },
    {
      "data": {"name": "ring"},
      "mark": {"type": "point", "shape": "M -1 0 A 1 0.621 0 1 1 1 0 A 1 0.621 0 1 1 -1 0 Z", "size": 93636, "filled": false, "stroke": "#0d3aff", "strokeWidth": 3.5, "opacity": 1},
      "encoding": {
        "x": {"field": "x", "type": "quantitative", "scale": {"domain": [0, 180], "nice": false}},
        "y": {"field": "y", "type": "quantitative", "scale": {"domain": [0, 1.2], "nice": false}}
      }
    },
    {
      "data": {"name": "blue_notes"},
      "mark": {"type": "text", "font": "Lato", "fontSize": 39.5, "color": "#0d3aff", "align": "left", "baseline": "alphabetic"},
      "encoding": {
        "x": {"field": "x", "type": "quantitative", "scale": {"domain": [0, 180], "nice": false}},
        "y": {"field": "y", "type": "quantitative", "scale": {"domain": [0, 1.2], "nice": false}},
        "text": {"field": "label"}
      }
    },
    {
      "data": {"name": "tags"},
      "mark": {"type": "text", "font": "Lato", "fontSize": 27, "fontWeight": "bold", "color": "#000000", "align": "left", "baseline": "alphabetic"},
      "encoding": {
        "x": {"field": "x", "type": "quantitative", "scale": {"domain": [0, 180], "nice": false}},
        "y": {"field": "y", "type": "quantitative", "scale": {"domain": [0, 1.2], "nice": false}},
        "text": {"field": "label"}
      }
    },
    {
      "data": {"name": "panel"},
      "mark": {"type": "rect", "fill": "#ffff00", "stroke": "#111111", "strokeWidth": 1.5},
      "encoding": {
        "x": {"field": "x0", "type": "quantitative", "scale": {"domain": [0, 180], "nice": false}},
        "x2": {"field": "x1"},
        "y": {"field": "y0", "type": "quantitative", "scale": {"domain": [0, 1.2], "nice": false}},
        "y2": {"field": "y1"}
      }
    },
    {
      "data": {"name": "panel_notes"},
      "mark": {"type": "text", "font": "Lato", "fontSize": 44.5, "color": "#000000", "align": "left", "baseline": "alphabetic"},
      "encoding": {
        "x": {"field": "x", "type": "quantitative", "scale": {"domain": [0, 180], "nice": false}},
        "y": {"field": "y", "type": "quantitative", "scale": {"domain": [0, 1.2], "nice": false}},
        "text": {"field": "label"}
      }
    },
    {
      "data": {"name": "sub"},
      "mark": {"type": "text", "font": "Liberation Serif", "fontSize": 17, "color": "#2a2a2a", "align": "left", "baseline": "alphabetic"},
      "encoding": {
        "x": {"field": "x", "type": "quantitative", "scale": {"domain": [0, 180], "nice": false}},
        "y": {"field": "y", "type": "quantitative", "scale": {"domain": [0, 1.2], "nice": false}},
        "text": {"field": "label"}
      }
    }
  ]
}
